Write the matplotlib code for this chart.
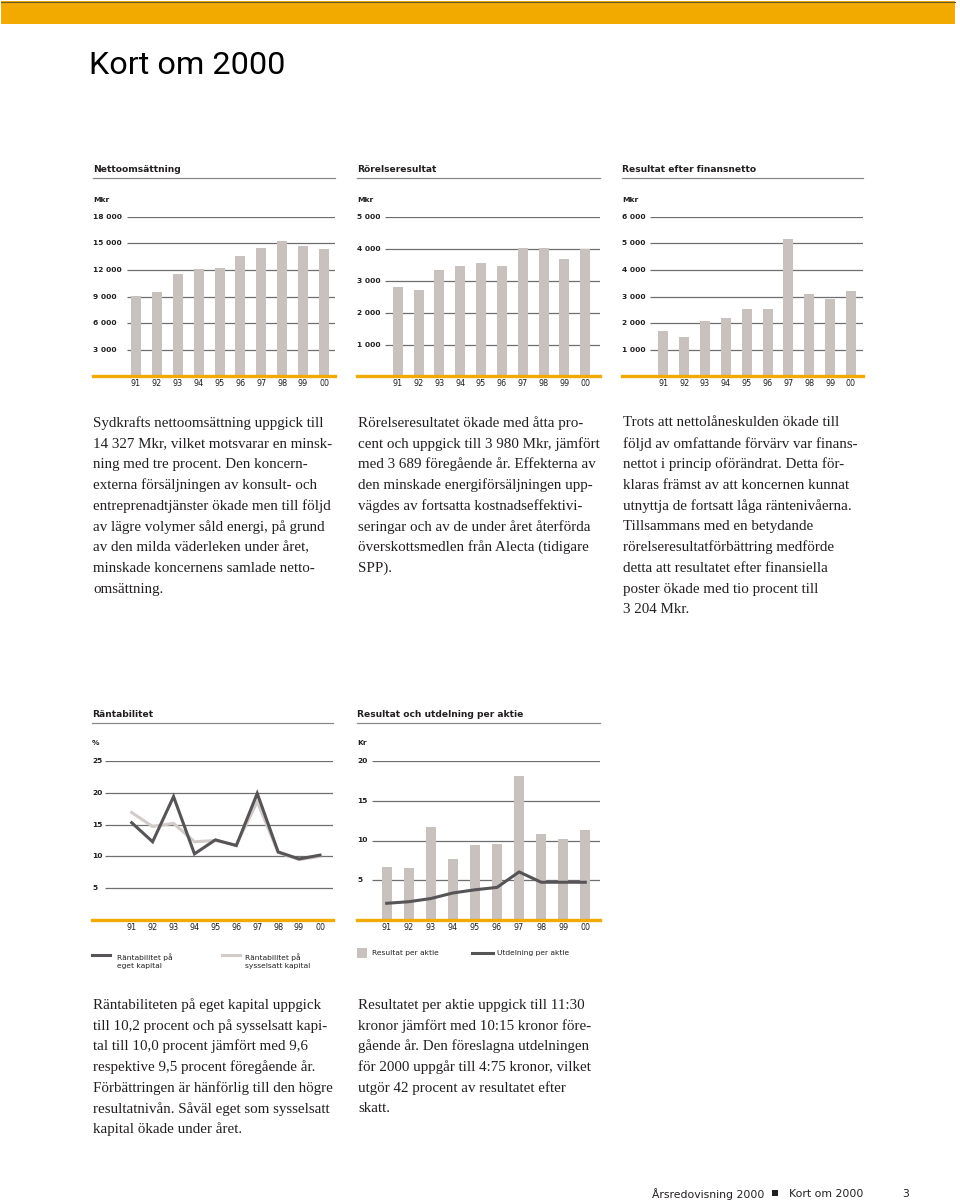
import matplotlib
matplotlib.use("Agg")
import matplotlib.pyplot as plt
from matplotlib.patches import Rectangle

# ---------------- data ----------------
years = ['91', '92', '93', '94', '95', '96', '97', '98', '99', '00']

netto = [9100, 9500, 11600, 12100, 12200, 13600, 14500, 15300, 14700, 14327]
netto_ticks = [3000, 6000, 9000, 12000, 15000, 18000]
netto_labels = ['3 000', '6 000', '9 000', '12 000', '15 000', '18 000']

rorelse = [2790, 2700, 3330, 3470, 3540, 3470, 4010, 4010, 3689, 3980]
rorelse_ticks = [1000, 2000, 3000, 4000, 5000]
rorelse_labels = ['1 000', '2 000', '3 000', '4 000', '5 000']

finans = [1720, 1500, 2080, 2190, 2520, 2520, 5170, 3080, 2920, 3204]
finans_ticks = [1000, 2000, 3000, 4000, 5000, 6000]
finans_labels = ['1 000', '2 000', '3 000', '4 000', '5 000', '6 000']

eget = [15.3, 12.3, 19.4, 10.4, 12.6, 11.7, 19.9, 10.7, 9.6, 10.2]
syss = [16.9, 14.7, 15.2, 12.3, 12.5, 11.8, 18.6, 10.6, 9.5, 10.0]
rant_ticks = [5, 10, 15, 20, 25]
rant_labels = ['5', '10', '15', '20', '25']

eps = [6.7, 6.6, 11.75, 7.7, 9.4, 9.6, 18.15, 10.8, 10.15, 11.30]
div = [2.1, 2.3, 2.7, 3.4, 3.8, 4.1, 6.05, 4.75, 4.75, 4.75]
aktie_ticks = [5, 10, 15, 20]
aktie_labels = ['5', '10', '15', '20']

para1 = ["Sydkrafts nettoomsättning uppgick till",
         "14 327 Mkr, vilket motsvarar en minsk-",
         "ning med tre procent. Den koncern-",
         "externa försäljningen av konsult- och",
         "entreprenadtjänster ökade men till följd",
         "av lägre volymer såld energi, på grund",
         "av den milda väderleken under året,",
         "minskade koncernens samlade netto-",
         "omsättning."]
para2 = ["Rörelseresultatet ökade med åtta pro-",
         "cent och uppgick till 3 980 Mkr, jämfört",
         "med 3 689 föregående år. Effekterna av",
         "den minskade energiförsäljningen upp-",
         "vägdes av fortsatta kostnadseffektivi-",
         "seringar och av de under året återförda",
         "överskottsmedlen från Alecta (tidigare",
         "SPP)."]
para3 = ["Trots att nettolåneskulden ökade till",
         "följd av omfattande förvärv var finans-",
         "nettot i princip oförändrat. Detta för-",
         "klaras främst av att koncernen kunnat",
         "utnyttja de fortsatt låga räntenivåerna.",
         "Tillsammans med en betydande",
         "rörelseresultatförbättring medförde",
         "detta att resultatet efter finansiella",
         "poster ökade med tio procent till",
         "3 204 Mkr."]
para4 = ["Räntabiliteten på eget kapital uppgick",
         "till 10,2 procent och på sysselsatt kapi-",
         "tal till 10,0 procent jämfört med 9,6",
         "respektive 9,5 procent föregående år.",
         "Förbättringen är hänförlig till den högre",
         "resultatnivån. Såväl eget som sysselsatt",
         "kapital ökade under året."]
para5 = ["Resultatet per aktie uppgick till 11:30",
         "kronor jämfört med 10:15 kronor före-",
         "gående år. Den föreslagna utdelningen",
         "för 2000 uppgår till 4:75 kronor, vilket",
         "utgör 42 procent av resultatet efter",
         "skatt."]

# ---------------- style ----------------
W, H = 960, 1202
YELLOW = '#F2A900'
BAR = '#C9C1BD'
DARK = '#565456'
LIGHT = '#D2CBC8'
GRID = '#6F6F6F'
TXT = '#231F20'
SANS = ['DejaVu Sans']
SERIF = ['Liberation Serif', 'DejaVu Serif']

fig = plt.figure(figsize=(W / 100, H / 100), dpi=100)
fig.patch.set_facecolor('white')

ov = fig.add_axes([0, 0, 1, 1])
ov.set_xlim(0, W)
ov.set_ylim(H, 0)
ov.axis('off')
ov.set_zorder(5)

# top band
ov.add_patch(Rectangle((1, 1), 954, 23, facecolor=YELLOW, edgecolor='none'))
ov.plot([1, 955], [1.5, 1.5], color='#6b5a2a', lw=0.8)
ov.text(89, 65.5, 'Kort om 2000', fontsize=23.3, family=['Roboto', 'DejaVu Sans'],
        color='black', va='center', ha='left')


def px_axes(left, right, top, bottom):
    return fig.add_axes([left / W, 1 - bottom / H, (right - left) / W, (bottom - top) / H])


def header(left, right, y_title, y_line, unit, y_unit, title):
    ov.text(left, y_title, title, fontsize=6.6, fontweight='bold', family=SANS,
            color=TXT, va='center', ha='left')
    ov.plot([left, right], [y_line, y_line], color='#8a8a8a', lw=0.9)
    ov.text(left, y_unit, unit, fontsize=5.4, fontweight='bold', family=SANS,
            color=TXT, va='center', ha='left')


def frame(left, right, grid_start, c0, c9, top, base, ymax, ticks, labels):
    ax = px_axes(left, right, top, base)
    s = (c9 - c0) / 9.0
    x0 = -(c0 - left) / s
    x1 = 9 + (right - c9) / s
    ax.set_xlim(x0, x1)
    ax.set_ylim(0, ymax)
    ax.axis('off')
    gs = x0 + (grid_start - left) / s
    ax.hlines(ticks, gs, x1, color=GRID, lw=0.9, zorder=1)
    for t, lab in zip(ticks, labels):
        ax.text(x0, t, lab, fontsize=5.4, fontweight='bold', family=SANS, color=TXT,
                ha='left', va='center')
    ax.axhline(0, color=YELLOW, lw=2.4, zorder=4, clip_on=False)
    for i, yl in enumerate(years):
        ax.annotate(yl, (i, 0), xytext=(0, -7), textcoords='offset pixels',
                    fontsize=5.8, family=SANS, color=TXT, ha='center', va='center')
    return ax, s


def bar_chart(left, right, grid_start, c0, c9, top, base, ymax, ticks, labels, values):
    ax, s = frame(left, right, grid_start, c0, c9, top, base, ymax, ticks, labels)
    ax.bar(range(10), values, width=10 / s, color=BAR, zorder=2)
    return ax


# ---- top row ----
header(93, 335, 170, 178.3, 'Mkr', 200, 'Nettoomsättning')
bar_chart(93, 335, 127, 136, 324, 216.7, 376.5, 18000, netto_ticks, netto_labels, netto)

header(357, 600, 170, 178.3, 'Mkr', 200, 'Rörelseresultat')
bar_chart(357, 600, 385, 397.7, 585.3, 216.7, 376.5, 5000, rorelse_ticks, rorelse_labels, rorelse)

header(622, 863, 170, 178.3, 'Mkr', 200, 'Resultat efter finansnetto')
bar_chart(622, 863, 650, 663.3, 851, 216.7, 376.5, 6000, finans_ticks, finans_labels, finans)

# ---- bottom row ----
header(92, 333, 714.5, 722.5, '%', 743, 'Räntabilitet')
ax4, _ = frame(92, 333, 105, 131.7, 320, 761, 920, 25, rant_ticks, rant_labels)
ax4.plot(range(10), syss, color=LIGHT, lw=2.2, zorder=3, solid_joinstyle='miter')
ax4.plot(range(10), eget, color=DARK, lw=2.2, zorder=3, solid_joinstyle='miter')

header(357, 600, 714.5, 722.5, 'Kr', 743, 'Resultat och utdelning per aktie')
ax5 = bar_chart(357, 600, 371.5, 386.7, 585.3, 761, 920, 20, aktie_ticks, aktie_labels, eps)
ax5.plot(range(10), div, color=DARK, lw=2.2, zorder=3)

# legends
ov.plot([92, 110], [955, 955], color=DARK, lw=2.2)
ov.text(117, 961.5, 'Räntabilitet på\neget kapital', fontsize=5.4, family=SANS, color=TXT,
        ha='left', va='center', linespacing=1.45)
ov.plot([222, 240], [955, 955], color=LIGHT, lw=2.2)
ov.text(245, 961.5, 'Räntabilitet på\nsysselsatt kapital', fontsize=5.4, family=SANS, color=TXT,
        ha='left', va='center', linespacing=1.45)
ov.add_patch(Rectangle((357, 948), 10, 10, facecolor=BAR, edgecolor='none'))
ov.text(372.5, 953, 'Resultat per aktie', fontsize=5.4, family=SANS, color=TXT,
        ha='left', va='center')
ov.plot([472, 493], [953, 953], color=DARK, lw=2.2)
ov.text(497, 953, 'Utdelning per aktie', fontsize=5.4, family=SANS, color=TXT,
        ha='left', va='center')


def paragraph(x, y0, lines, step=20.75):
    for i, ln in enumerate(lines):
        ov.text(x, y0 + i * step, ln, fontsize=10.8, family=SERIF, color=TXT,
                ha='left', va='center')


paragraph(93, 423, para1)
paragraph(358, 423, para2)
paragraph(623, 423, para3)
paragraph(93, 1005, para4)
paragraph(358, 1005, para5)

# footer
ov.text(764, 1194, 'Årsredovisning 2000', fontsize=7.8, family=SANS, color=TXT, ha='right', va='center')
ov.add_patch(Rectangle((772, 1190), 6, 6, facecolor=TXT, edgecolor='none'))
ov.text(863, 1194, 'Kort om 2000', fontsize=7.8, family=SANS, color=TXT, ha='right', va='center')
ov.text(902, 1194, '3', fontsize=7.8, family=SANS, color=TXT, ha='left', va='center')

fig.savefig('out.png', dpi=100, facecolor='white')
